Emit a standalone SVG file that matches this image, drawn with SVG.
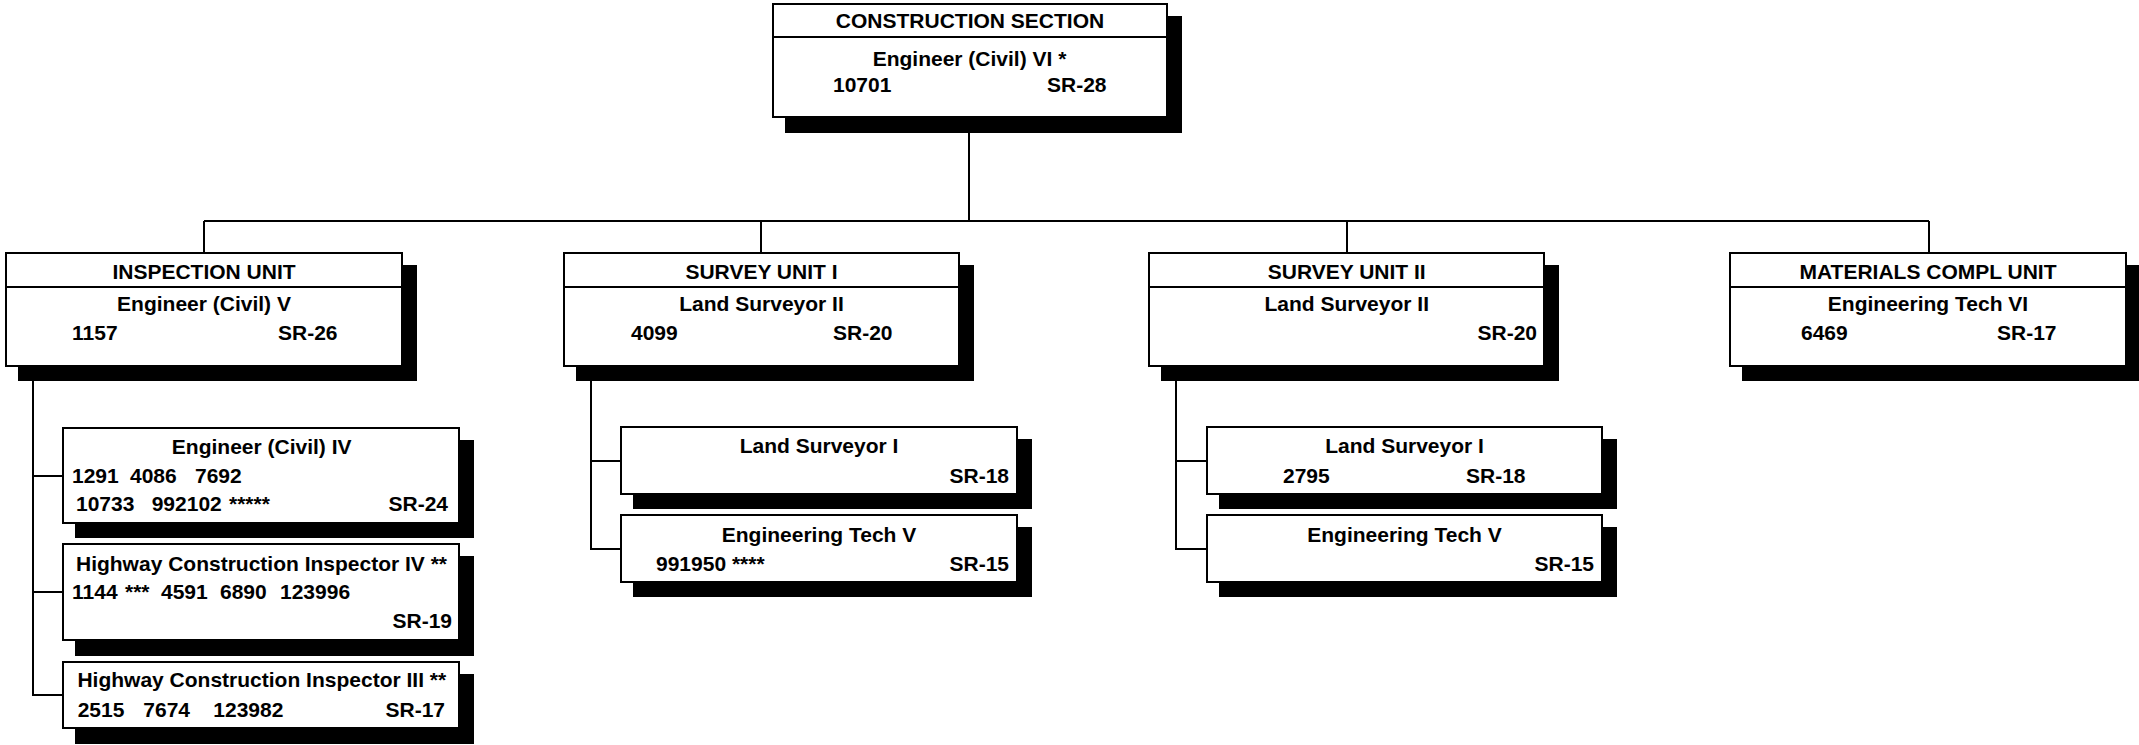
<svg xmlns="http://www.w3.org/2000/svg" width="2139" height="745" viewBox="0 0 2139 745">
<style>
.bg{fill:#fff}
.sh{fill:#000}
.box{fill:#fff;stroke:#000;stroke-width:2}
.div{stroke:#000;stroke-width:2}
.con{fill:none;stroke:#000;stroke-width:2}
text{font-family:"Liberation Sans",Arial,sans-serif;font-weight:bold;font-size:21px;fill:#000}
.m{text-anchor:middle}
.e{text-anchor:end}
</style>
<rect class="bg" x="0" y="0" width="2139" height="745"/>
<g id="connectors">
<path class="con" d="M969 117V221M204 221H1929M204 221V253M761 221V253M1347 221V253M1929 221V253"/>
<path class="con" d="M33 366V695H63M33 476H63M33 592H63"/>
<path class="con" d="M591 366V549H621M591 461H621"/>
<path class="con" d="M1176 366V549H1207M1176 461H1207"/>
</g>
<g id="construction-section">
<rect class="sh" x="785" y="16" width="397" height="117"/>
<rect class="box" x="773" y="4" width="394" height="113"/>
<line class="div" x1="773" y1="37" x2="1167" y2="37"/>
<text class="m" x="970" y="28">CONSTRUCTION SECTION</text>
<text class="m" x="969.5" y="66">Engineer (Civil) VI *</text>
<text x="833" y="92">10701</text>
<text x="1047" y="92">SR-28</text>
</g>
<g id="inspection-unit">
<rect class="sh" x="18" y="265" width="399" height="116"/>
<rect class="box" x="6" y="253" width="396" height="113"/>
<line class="div" x1="6" y1="287" x2="402" y2="287"/>
<text class="m" x="204" y="279">INSPECTION UNIT</text>
<text class="m" x="204" y="311">Engineer (Civil) V</text>
<text x="72" y="340">1157</text>
<text x="278" y="340">SR-26</text>
</g>
<g id="survey-unit-1">
<rect class="sh" x="576" y="265" width="398" height="116"/>
<rect class="box" x="564" y="253" width="395" height="113"/>
<line class="div" x1="564" y1="287" x2="959" y2="287"/>
<text class="m" x="761.5" y="279">SURVEY UNIT I</text>
<text class="m" x="761.5" y="311">Land Surveyor II</text>
<text x="631" y="340">4099</text>
<text x="833" y="340">SR-20</text>
</g>
<g id="survey-unit-2">
<rect class="sh" x="1161" y="265" width="398" height="116"/>
<rect class="box" x="1149" y="253" width="395" height="113"/>
<line class="div" x1="1149" y1="287" x2="1544" y2="287"/>
<text class="m" x="1346.7" y="279">SURVEY UNIT II</text>
<text class="m" x="1346.7" y="311">Land Surveyor II</text>
<text class="e" x="1537" y="340">SR-20</text>
</g>
<g id="materials-compl-unit">
<rect class="sh" x="1742" y="265" width="399" height="116"/>
<rect class="box" x="1730" y="253" width="396" height="113"/>
<line class="div" x1="1730" y1="287" x2="2126" y2="287"/>
<text class="m" x="1928" y="279">MATERIALS COMPL UNIT</text>
<text class="m" x="1928" y="311">Engineering Tech VI</text>
<text x="1801" y="340">6469</text>
<text x="1997" y="340">SR-17</text>
</g>
<g id="engineer-civil-4">
<rect class="sh" x="75" y="440" width="399" height="98"/>
<rect class="box" x="63" y="428" width="396" height="95"/>
<text class="m" x="261.7" y="454">Engineer (Civil) IV</text>
<text y="483"><tspan x="72">1291</tspan><tspan x="130">4086</tspan><tspan x="195">7692</tspan></text>
<text y="511"><tspan x="76">10733</tspan><tspan x="151.7">992102</tspan><tspan x="229">*****</tspan></text>
<text class="e" x="448" y="511">SR-24</text>
</g>
<g id="hwy-inspector-4">
<rect class="sh" x="75" y="556" width="399" height="100"/>
<rect class="box" x="63" y="544" width="396" height="96"/>
<text class="m" x="261.5" y="571">Highway Construction Inspector IV **</text>
<text y="599"><tspan x="72">1144</tspan><tspan x="125">***</tspan><tspan x="161">4591</tspan><tspan x="220">6890</tspan><tspan x="280">123996</tspan></text>
<text class="e" x="452" y="628">SR-19</text>
</g>
<g id="hwy-inspector-3">
<rect class="sh" x="75" y="674" width="399" height="70"/>
<rect class="box" x="63" y="662" width="396" height="66"/>
<text class="m" x="261.8" y="687">Highway Construction Inspector III **</text>
<text y="717"><tspan x="77.7">2515</tspan><tspan x="143.3">7674</tspan><tspan x="213.3">123982</tspan></text>
<text class="e" x="445" y="717">SR-17</text>
</g>
<g id="land-surveyor-1-a">
<rect class="sh" x="633" y="439" width="399" height="70"/>
<rect class="box" x="621" y="427" width="396" height="67"/>
<text class="m" x="819" y="453">Land Surveyor I</text>
<text class="e" x="1009" y="483">SR-18</text>
</g>
<g id="eng-tech-5-a">
<rect class="sh" x="633" y="527" width="399" height="70"/>
<rect class="box" x="621" y="515" width="396" height="67"/>
<text class="m" x="819" y="542">Engineering Tech V</text>
<text x="656" y="571">991950 ****</text>
<text class="e" x="1009" y="571">SR-15</text>
</g>
<g id="land-surveyor-1-b">
<rect class="sh" x="1219" y="439" width="398" height="70"/>
<rect class="box" x="1207" y="427" width="395" height="67"/>
<text class="m" x="1404.5" y="453">Land Surveyor I</text>
<text x="1283" y="483">2795</text>
<text x="1466" y="483">SR-18</text>
</g>
<g id="eng-tech-5-b">
<rect class="sh" x="1219" y="527" width="398" height="70"/>
<rect class="box" x="1207" y="515" width="395" height="67"/>
<text class="m" x="1404.5" y="542">Engineering Tech V</text>
<text class="e" x="1594" y="571">SR-15</text>
</g>
</svg>
